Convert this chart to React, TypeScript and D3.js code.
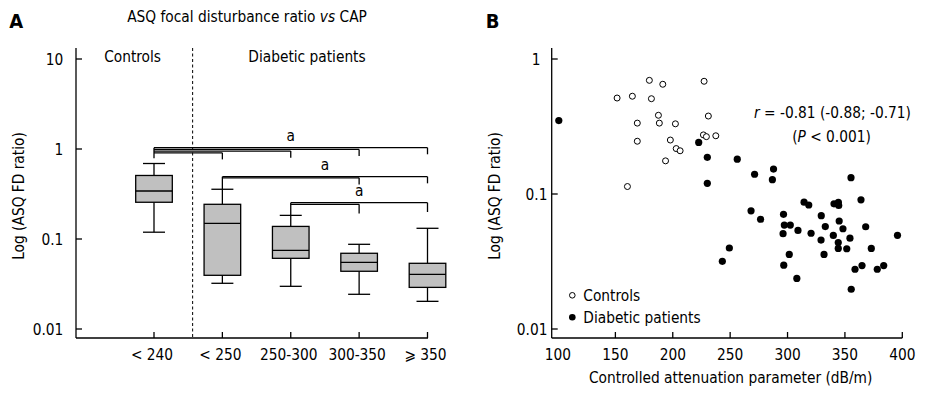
import React from "react";
import * as d3 from "d3";

// ---------- Data ----------
const categories = ["< 240", "< 250", "250-300", "300-350", "\u2A7E 350"];
const whiskerLow = [0.119, 0.0322, 0.0298, 0.0243, 0.0203];
const q1 = [0.256, 0.0395, 0.061, 0.0438, 0.029];
const median = [0.3415, 0.149, 0.0749, 0.0551, 0.0405];
const q3 = [0.508, 0.243, 0.138, 0.0694, 0.0537];
const whiskerHigh = [0.69, 0.357, 0.183, 0.0873, 0.1315];

// significance groups: from category, to categories, level (value on log axis)
const sigFrom = [0, 1, 2];
const sigTo = [[4, 3, 2, 1], [4, 3], [4, 3]];
const sigLevel = [1.034, 0.492, 0.253];

const panelATicks = [10, 1, 0.1, 0.01];
const panelBYTicks = [1, 0.1, 0.01];
const panelBXTicks = [100, 150, 200, 250, 300, 350, 400];

const controlsCAP = [179.6, 191.3, 151.5, 164.8, 181.4, 187.5, 169.1, 188.3, 202.3, 169.1, 197.9, 203.0, 206.4, 193.7, 160.5, 227.3, 231.0, 226.7, 229.3, 237.5];
const controlsFD = [0.695, 0.65, 0.514, 0.53, 0.508, 0.383, 0.335, 0.335, 0.331, 0.246, 0.251, 0.217, 0.209, 0.176, 0.1136, 0.684, 0.378, 0.274, 0.266, 0.27];

const diabeticCAP = [100.7, 222.6, 230.1, 256.2, 271.3, 287.8, 286.8, 355.3, 230.1, 314.4, 318.5, 340.5, 344.3, 344.6, 364.0, 268.2, 276.5, 296.5, 297.2, 302.4, 296.1, 309.1, 320.5, 329.4, 332.9, 345.0, 348.3, 339.9, 329.2, 344.2, 344.2, 351.6, 354.4, 368.1, 395.8, 373.0, 331.8, 301.5, 249.3, 243.2, 296.7, 308.1, 358.8, 364.9, 378.2, 383.8, 355.5];
const diabeticFD = [0.35, 0.241, 0.187, 0.181, 0.14, 0.153, 0.1276, 0.132, 0.12, 0.087, 0.0829, 0.0846, 0.0868, 0.0822, 0.0906, 0.0751, 0.065, 0.0707, 0.0589, 0.0589, 0.0508, 0.0537, 0.0512, 0.0691, 0.0574, 0.0631, 0.0553, 0.0493, 0.0456, 0.0437, 0.0395, 0.0393, 0.0471, 0.0572, 0.0494, 0.0395, 0.0357, 0.0357, 0.0398, 0.0317, 0.0297, 0.0237, 0.0277, 0.0295, 0.0277, 0.0295, 0.0197];

// ---------- Layout ----------
const W = 930;
const H = 394;
const FONT = "'DejaVu Sans Condensed', 'DejaVu Sans', sans-serif";
const FS = 15.3;
const SW = 1.3;

export default function App() {
  // Panel A
  const aLeft = 76, aRight = 428, aTop = 48, aBottom = 338;
  const xA = d3.scalePoint<number>().domain(d3.range(categories.length)).range([154, 427.5]);
  const yA = d3.scaleLog().domain([0.01, 10]).range([329, 59]);
  const step = xA.step();
  const sepX = (xA(0) as number) + step * 0.565;
  const boxW = 36.6;
  const capW = 22;

  // Panel B
  const bLeft = 551.7, bRight = 902.3, bTop = 48, bBottom = 338;
  const xB = d3.scaleLinear().domain([100, 400]).range([558, 902.3]);
  const yB = d3.scaleLog().domain([0.01, 1]).range([329, 59]);

  const txt = { fontFamily: FONT, fontSize: FS, fontStretch: "condensed" as const, fill: "#000" };

  return (
    <svg width={W} height={H} style={{ position: "absolute", left: 0, top: 0, background: "#fff" }}>
      {/* ---------- Panel A ---------- */}
      <text x={9.3} y={28.3} style={{ ...txt, fontSize: 20, fontWeight: "bold", fontStretch: "normal" }}>A</text>
      <text x={247} y={21.5} textAnchor="middle" style={txt}>
        ASQ focal disturbance ratio <tspan fontStyle="italic">vs</tspan> CAP
      </text>
      <text x={132.6} y={61.5} textAnchor="middle" style={txt}>Controls</text>
      <text x={307} y={61.5} textAnchor="middle" style={txt}>Diabetic patients</text>
      <text transform={`translate(24,196) rotate(-90)`} textAnchor="middle" style={txt}>Log (ASQ FD ratio)</text>

      {/* axes */}
      <line x1={aLeft} x2={aLeft} y1={aTop} y2={aBottom} stroke="#000" strokeWidth={SW} />
      <line x1={aLeft} x2={aRight} y1={aBottom} y2={aBottom} stroke="#000" strokeWidth={SW} />
      {panelATicks.map((t) => (
        <g key={"ya" + t}>
          <line x1={aLeft} x2={aLeft + 6} y1={yA(t)} y2={yA(t)} stroke="#000" strokeWidth={SW} />
          <text x={63.3} y={yA(t)} dy="0.36em" textAnchor="end" style={txt}>{t}</text>
        </g>
      ))}
      {categories.map((c, i) => (
        <g key={"xa" + i}>
          <line x1={xA(i)} x2={xA(i)} y1={aBottom} y2={aBottom - 6} stroke="#000" strokeWidth={SW} />
          <text x={(xA(i) as number) - 2} y={360} textAnchor="middle" style={txt}>{c}</text>
        </g>
      ))}
      <line x1={sepX} x2={sepX} y1={aTop} y2={aBottom} stroke="#000" strokeWidth={1} strokeDasharray="3,2.5" />

      {/* boxes */}
      {categories.map((c, i) => {
        const cx = xA(i) as number;
        return (
          <g key={"box" + i} stroke="#000" strokeWidth={SW}>
            <line x1={cx} x2={cx} y1={yA(whiskerHigh[i])} y2={yA(q3[i])} />
            <line x1={cx} x2={cx} y1={yA(q1[i])} y2={yA(whiskerLow[i])} />
            <line x1={cx - capW / 2} x2={cx + capW / 2} y1={yA(whiskerHigh[i])} y2={yA(whiskerHigh[i])} />
            <line x1={cx - capW / 2} x2={cx + capW / 2} y1={yA(whiskerLow[i])} y2={yA(whiskerLow[i])} />
            <rect x={cx - boxW / 2} y={yA(q3[i])} width={boxW} height={yA(q1[i]) - yA(q3[i])} fill="#c0c0c0" />
            <line x1={cx - boxW / 2} x2={cx + boxW / 2} y1={yA(median[i])} y2={yA(median[i])} />
          </g>
        );
      })}

      {/* significance brackets */}
      {sigFrom.map((f, g) => {
        const fx = xA(f) as number;
        const y0 = yA(sigLevel[g]);
        const tos = sigTo[g];
        const gap = g === 0 ? 1.7 : g === 1 ? 1.1 : 1.6;
        const drop = g === 2 ? 9.3 : 6.6;
        const stemEnd = g === 0 ? y0 + 10.6 : yA(whiskerHigh[f]);
        const labelX = g === 0 ? (xA(2) as number) : g === 1 ? ((xA(2) as number) + (xA(3) as number)) / 2 : (xA(3) as number);
        return (
          <g key={"sig" + g}>
            <line x1={fx} x2={fx} y1={y0} y2={stemEnd} stroke="#000" strokeWidth={SW} />
            {tos.map((t, k) => {
              const ly = y0 + k * gap;
              const tx = xA(t) as number;
              return (
                <g key={k} stroke="#000" strokeWidth={SW}>
                  <line x1={fx} x2={tx} y1={ly} y2={ly} />
                  <line x1={tx} x2={tx} y1={ly} y2={ly + drop} />
                </g>
              );
            })}
            <text x={labelX} y={y0 - 7} textAnchor="middle" style={txt}>a</text>
          </g>
        );
      })}

      {/* ---------- Panel B ---------- */}
      <text x={485.7} y={28.3} style={{ ...txt, fontSize: 20, fontWeight: "bold", fontStretch: "normal" }}>B</text>
      <text transform={`translate(500,196) rotate(-90)`} textAnchor="middle" style={txt}>Log (ASQ FD ratio)</text>
      <line x1={bLeft} x2={bLeft} y1={bTop} y2={bBottom} stroke="#000" strokeWidth={SW} />
      <line x1={bLeft} x2={bRight} y1={bBottom} y2={bBottom} stroke="#000" strokeWidth={SW} />
      {panelBYTicks.map((t) => (
        <g key={"yb" + t}>
          <line x1={bLeft} x2={bLeft + 6} y1={yB(t)} y2={yB(t)} stroke="#000" strokeWidth={SW} />
          <text x={t === 1 ? 540.5 : 547.5} y={yB(t)} dy="0.36em" textAnchor="end" style={txt}>{t}</text>
        </g>
      ))}
      {panelBXTicks.map((t) => (
        <g key={"xb" + t}>
          {t > 100 && <line x1={xB(t)} x2={xB(t)} y1={bBottom} y2={bBottom - 6} stroke="#000" strokeWidth={SW} />}
          <text x={xB(t)} y={360} textAnchor="middle" style={txt}>{t}</text>
        </g>
      ))}
      <text x={730.7} y={383} textAnchor="middle" style={txt}>Controlled attenuation parameter (dB/m)</text>

      {controlsCAP.map((v, i) => (
        <circle key={"c" + i} cx={xB(v)} cy={yB(controlsFD[i])} r={3} fill="#fff" stroke="#000" strokeWidth={1} />
      ))}
      {diabeticCAP.map((v, i) => (
        <circle key={"d" + i} cx={xB(v)} cy={yB(diabeticFD[i])} r={3.6} fill="#000" />
      ))}

      <text x={832.5} y={118} textAnchor="middle" style={txt}>
        <tspan fontStyle="italic">r</tspan> = -0.81 (-0.88; -0.71)
      </text>
      <text x={831.5} y={142} textAnchor="middle" style={txt}>
        (<tspan fontStyle="italic">P</tspan> &lt; 0.001)
      </text>

      {/* legend */}
      <circle cx={572.3} cy={295.3} r={2.8} fill="#fff" stroke="#000" strokeWidth={1} />
      <text x={583.3} y={300.7} style={txt}>Controls</text>
      <circle cx={572.3} cy={317.3} r={3.3} fill="#000" />
      <text x={583.3} y={323.3} style={txt}>Diabetic patients</text>
    </svg>
  );
}
